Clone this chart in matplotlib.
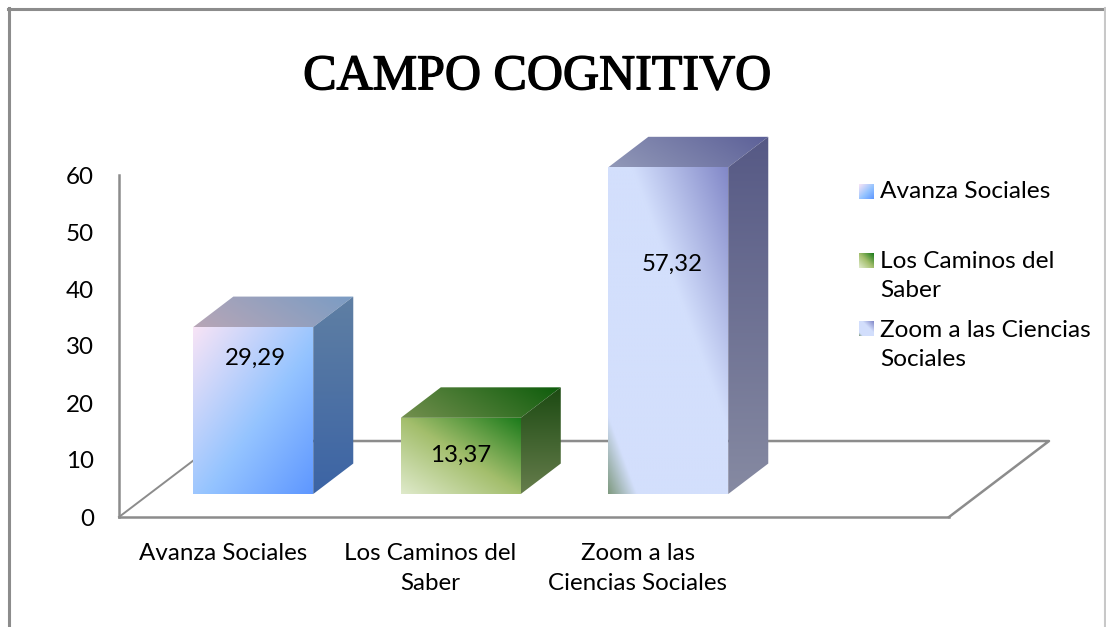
import numpy as np
import matplotlib
matplotlib.use("Agg")
import matplotlib.pyplot as plt
import matplotlib.patheffects as pe
from matplotlib.colors import to_rgb
from matplotlib.lines import Line2D
from matplotlib.patches import Polygon

# data
categories = ["Avanza Sociales", "Los Caminos del\nSaber", "Zoom a las\nCiencias Sociales"]
legend_labels = ["Avanza Sociales", "Los Caminos del\nSaber", "Zoom a las Ciencias\nSociales"]
values = [29.29, 13.37, 57.32]
value_labels = ["29,29", "13,37", "57,32"]
y_ticks = [0, 10, 20, 30, 40, 50, 60]

# gradient stops for each bar: (position, colour)
front_colors = [
    [(0.0, "#f8e4f6"), (0.55, "#95c4ff"), (1.0, "#5e97ff")],
    [(0.0, "#dfeacb"), (0.5, "#a3be6c"), (1.0, "#1a7a1a")],
    [(0.0, "#7f9a80"), (0.12, "#d3dffc"), (0.6, "#d3dffc"), (1.0, "#8288c8")],
]
front_angle = [(1, -1), (1, 1), (1, 1)]
top_colors = [("#b8a6b6", "#7a9cc4"), ("#74904f", "#0d5c0b"), ("#9299b8", "#5c6098")]
side_colors = [("#5f7fa3", "#3c64a5"), ("#1c4a12", "#667d4c"), ("#565985", "#868aa2")]

W, H = 1106, 627
LINE = "#8c8c8c"

plt.rcParams["font.family"] = ["Lato", "DejaVu Sans"]

fig = plt.figure(figsize=(W / 100, H / 100), dpi=100)
# plot area in pixels: floor front 119-949, 0 at y=517, 60 at y=175
ax = fig.add_axes([119 / W, 1 - 517 / H, 830 / W, 342 / H])


def gradient(stops, dx, dy, n=200):
    # diagonal gradient image, row 0 at the top
    xx, yy = np.meshgrid(np.linspace(0, 1, n), np.linspace(1, 0, n))
    u = dx * xx + dy * yy
    u = (u - u.min()) / (u.max() - u.min())
    pos = [s[0] for s in stops]
    rgb = np.array([to_rgb(s[1]) for s in stops])
    return np.dstack([np.interp(u, pos, rgb[:, i]) for i in range(3)])


def face(pts, stops, dx, dy):
    pts = np.array(pts)
    img = ax.imshow(gradient(stops, dx, dy), aspect="auto", interpolation="bilinear", zorder=3,
                    extent=[pts[:, 0].min(), pts[:, 0].max(), pts[:, 1].min(), pts[:, 1].max()])
    img.set_clip_path(Polygon(pts, transform=ax.transData))
    # the tall bar goes above the 60 line, so do not cut at the axes box
    img.set_clip_box(fig.bbox)


# bar geometry in data units (1 category = 207.5 px, 1 y unit = 5.7 px)
bar_w = 0.578
shift_x, shift_y = 0.147, 4.03
depth_x, depth_y = 0.193, 5.35
floor_x, floor_y = 0.482, 13.33
# where the data labels sit on each bar, offset from the bar top and centre
label_drop = [1.39, 2.47, 12.92]
label_nudge = [0.01, 0.0, 0.02]

# floor
ax.plot([-0.5 + floor_x, 3.5 + floor_x, 3.5], [floor_y, floor_y, 0], color=LINE, lw=1.8, clip_on=False, zorder=1)
ax.plot([-0.5, -0.5 + floor_x], [0, floor_y], color=LINE, lw=1.4, clip_on=False, zorder=1)

for i, v in enumerate(values):
    x0 = i + shift_x - bar_w / 2
    x1 = x0 + bar_w
    y0 = shift_y
    y1 = shift_y + v
    face([(x0, y0), (x1, y0), (x1, y1), (x0, y1)], front_colors[i], *front_angle[i])
    face([(x0, y1), (x1, y1), (x1 + depth_x, y1 + depth_y), (x0 + depth_x, y1 + depth_y)],
         [(0, top_colors[i][0]), (1, top_colors[i][1])], 1, 0.3)
    face([(x1, y0), (x1 + depth_x, y0 + depth_y), (x1 + depth_x, y1 + depth_y), (x1, y1)],
         [(0, side_colors[i][1]), (1, side_colors[i][0])], 0, 1)
    ax.text(i + shift_x + label_nudge[i], v - label_drop[i], value_labels[i], ha="center", va="center",
            fontsize=17.3, color="black", zorder=5)

ax.set_xlim(-0.5, 3.5)
ax.set_ylim(0, 60)
ax.set_xticks(range(len(categories)), categories)
ax.set_yticks(y_ticks)
ax.tick_params(length=0)
ax.tick_params(axis="x", labelsize=17.4, pad=19)
ax.tick_params(axis="y", labelsize=17.4, pad=18)
for lab in ax.get_xticklabels():
    lab.set_linespacing(1.5)
for s in ["top", "right"]:
    ax.spines[s].set_visible(False)
for s in ["left", "bottom"]:
    ax.spines[s].set_color(LINE)
    ax.spines[s].set_linewidth(1.8)
ax.patch.set_alpha(0)

# title
fig.text(537 / W, 1 - 77 / H, "CAMPO COGNITIVO", ha="center", va="center", fontsize=36,
         family="Liberation Serif", color="black",
         path_effects=[pe.withStroke(linewidth=1.0, foreground="black")])

# legend, one swatch and text per series
swatch_y = [184, 253, 321]
text_y = [191, 276, 345]
for i, lab in enumerate(legend_labels):
    sw = fig.add_axes([859 / W, 1 - (swatch_y[i] + 15) / H, 15 / W, 15 / H])
    sw.imshow(gradient(front_colors[i], *front_angle[i], n=30), aspect="auto")
    sw.axis("off")
    fig.text(880 / W, 1 - text_y[i] / H, lab, ha="left", va="center", fontsize=17.6, linespacing=1.5)

# chart frame
frame = [([8.5, 8.5], [8, H], "#8c8c8c", 2.2), ([8, W - 1], [8.5, 8.5], "#8c8c8c", 2.2),
         ([W - 1.5, W - 1.5], [8, H], "#c8c8c8", 1.5)]
for xs, ys, c, lw in frame:
    fig.add_artist(Line2D([x / W for x in xs], [1 - y / H for y in ys], color=c, lw=lw))

fig.savefig("out.png", dpi=100)
